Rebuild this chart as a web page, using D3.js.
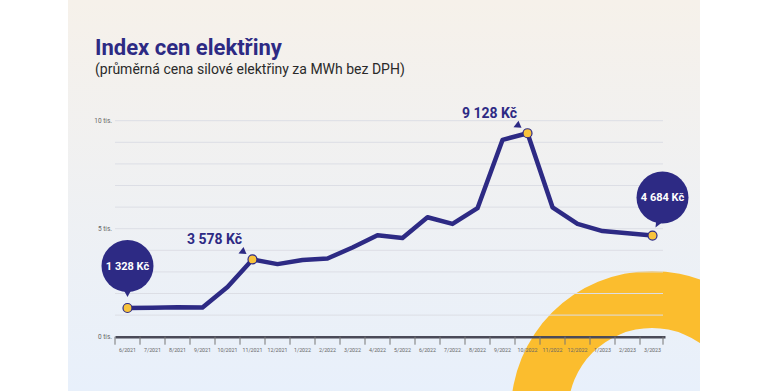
<!DOCTYPE html>
<html>
<head>
<meta charset="utf-8">
<script src="https://cdn.jsdelivr.net/npm/d3@7"></script>
<style>
  body { margin: 0; background: #ffffff; }
  svg { display: block; font-family: Roboto, "Noto Sans", sans-serif; }
</style>
</head>
<body>
<svg id="chart" width="770" height="391"></svg>
<script>
"use strict";

// months on the x axis
var months = ["6/2021", "7/2021", "8/2021", "9/2021", "10/2021", "11/2021", "12/2021",
  "1/2022", "2/2022", "3/2022", "4/2022", "5/2022", "6/2022", "7/2022", "8/2022",
  "9/2022", "10/2022", "11/2022", "12/2022", "1/2023", "2/2023", "3/2023"];

// average price per MWh (Kč)
var prices = [1328, 1340, 1365, 1350, 2300, 3578, 3360, 3550, 3620, 4130, 4700, 4570,
  5530, 5220, 5950, 9110, 9420, 5990, 5220, 4890, 4790, 4684];

var yTicks = [0, 5000, 10000];
var yTickLabels = ["0 tis.", "5 tis.", "10 tis."];

// highlighted months
var bubbleMonths = ["6/2021", "3/2023"];
var bubbleLabels = ["1 328 Kč", "4 684 Kč"];
var calloutMonths = ["11/2021", "10/2022"];
var calloutLabels = ["3 578 Kč", "9 128 Kč"];

var title = "Index cen elektřiny";
var subtitle = "(průměrná cena silové elektřiny za MWh bez DPH)";

var navy = "#2d2a84";
var yellow = "#fbbd2e";

var svg = d3.select("#chart");

// background panel
var defs = svg.append("defs");
var grad = defs.append("linearGradient")
  .attr("id", "bg")
  .attr("x1", 0).attr("y1", 0).attr("x2", 0).attr("y2", 1);
grad.append("stop").attr("offset", "0%").attr("stop-color", "#f6f1ea");
grad.append("stop").attr("offset", "100%").attr("stop-color", "#e8f0fb");

defs.append("clipPath")
  .attr("id", "panelClip")
  .append("rect")
  .attr("x", 68).attr("y", 0).attr("width", 632).attr("height", 391);

svg.append("rect")
  .attr("x", 68).attr("y", 0)
  .attr("width", 632).attr("height", 391)
  .attr("fill", "url(#bg)");

// yellow ring in the corner
svg.append("g")
  .attr("clip-path", "url(#panelClip)")
  .append("path")
  .attr("transform", "translate(652,412)")
  .attr("d", d3.arc().innerRadius(84).outerRadius(141).startAngle(0).endAngle(2 * Math.PI)())
  .attr("fill", yellow);

// titles
svg.append("text")
  .attr("x", 95).attr("y", 55)
  .attr("font-size", 22)
  .attr("font-weight", 700)
  .attr("fill", navy)
  .text(title);

svg.append("text")
  .attr("x", 95).attr("y", 74)
  .attr("font-size", 14)
  .attr("fill", "#2a2a2a")
  .text(subtitle);

// scales
var x = d3.scaleBand()
  .domain(months)
  .range([115, 665]);

var y = d3.scaleLinear()
  .domain([0, 10000])
  .range([336.7, 120.7]);

// gridlines every 1000
svg.append("g")
  .selectAll("line")
  .data(d3.range(1000, 10001, 1000))
  .enter()
  .append("line")
  .attr("x1", 115).attr("x2", 663)
  .attr("y1", function(d) { return y(d); })
  .attr("y2", function(d) { return y(d); })
  .attr("stroke", "#dcdee5")
  .attr("stroke-width", 1);

// y labels
svg.append("g")
  .selectAll("text")
  .data(yTicks)
  .enter()
  .append("text")
  .attr("x", 112)
  .attr("y", function(d) { return y(d); })
  .attr("dy", "0.32em")
  .attr("text-anchor", "end")
  .attr("font-size", 6.5)
  .attr("fill", "#666")
  .text(function(d, i) { return yTickLabels[i]; });

// x axis, labels in the middle of each month
var xAxis = svg.append("g")
  .attr("transform", "translate(0," + y(0) + ")")
  .call(d3.axisBottom(x).tickSize(0).tickPadding(12));

xAxis.select(".domain")
  .attr("stroke", "#4a4a58")
  .attr("stroke-width", 2.5);

xAxis.selectAll("text")
  .attr("font-family", "Roboto, sans-serif")
  .attr("font-size", 5.3)
  .attr("fill", "#666");

// ticks between months
xAxis.selectAll(".sep")
  .data(months.concat(["end"]))
  .enter()
  .append("line")
  .attr("class", "sep")
  .attr("x1", function(d) { return d == "end" ? x.range()[1] - 2 : x(d); })
  .attr("x2", function(d) { return d == "end" ? x.range()[1] - 2 : x(d); })
  .attr("y1", 0).attr("y2", 8)
  .attr("stroke", "#777")
  .attr("stroke-width", 1);

function cx(m) { return x(m) + x.bandwidth() / 2; }
function cy(m) { return y(prices[months.indexOf(m)]); }

// price line
var line = d3.line()
  .x(function(d, i) { return cx(months[i]); })
  .y(function(d) { return y(d); });

svg.append("path")
  .datum(prices)
  .attr("d", line)
  .attr("fill", "none")
  .attr("stroke", navy)
  .attr("stroke-width", 4.5)
  .attr("stroke-linejoin", "round");

// bubbles
var bubbleOffsets = [[0, -42, 0, -11], [10, -38, 3, -8]];
bubbleMonths.forEach(function(m, i) {
  var px = cx(m), py = cy(m), o = bubbleOffsets[i];
  var bx = px + o[0], by = py + o[1];
  var tx = px + o[2], ty = py + o[3];
  var g = svg.append("g");
  g.append("path")
    .attr("d", "M" + (bx - 6) + "," + (by + 20) + "L" + (bx + 6) + "," + (by + 20) + "L" + tx + "," + ty + "Z")
    .attr("fill", navy);
  g.append("circle")
    .attr("cx", bx).attr("cy", by)
    .attr("r", 26)
    .attr("fill", navy);
  g.append("text")
    .attr("x", bx).attr("y", by)
    .attr("dy", "0.35em")
    .attr("text-anchor", "middle")
    .attr("font-size", 11)
    .attr("font-weight", 700)
    .attr("fill", "#ffffff")
    .text(bubbleLabels[i]);
});

// plain callouts with a little arrowhead
calloutMonths.forEach(function(m, i) {
  var px = cx(m), py = cy(m);
  svg.append("text")
    .attr("x", px - 38).attr("y", py - 15)
    .attr("text-anchor", "middle")
    .attr("font-size", 14)
    .attr("font-weight", 700)
    .attr("fill", navy)
    .text(calloutLabels[i]);
  var ax = px - 10, ay = py - 9;
  svg.append("path")
    .attr("d", "M" + (ax - 4) + "," + (ay + 3) + "L" + (ax + 4) + "," + (ay + 3.5) + "L" + (ax + 1) + "," + (ay - 3.5) + "Z")
    .attr("fill", navy);
});

// highlighted points
svg.append("g")
  .selectAll("circle")
  .data(bubbleMonths.concat(calloutMonths))
  .enter()
  .append("circle")
  .attr("cx", function(d) { return cx(d); })
  .attr("cy", function(d) { return cy(d); })
  .attr("r", 4.5)
  .attr("fill", "#f8c33c")
  .attr("stroke", navy)
  .attr("stroke-width", 1.2);
</script>
</body>
</html>
